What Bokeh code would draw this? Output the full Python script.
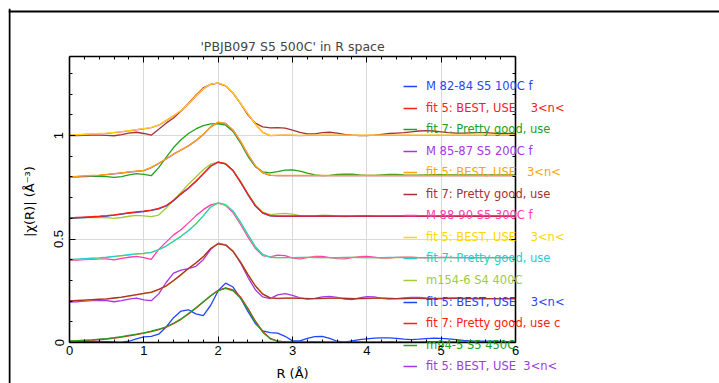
from bokeh.plotting import figure
from bokeh.models import Range1d, FixedTicker, LinearAxis, Legend, LegendItem, Span
from bokeh.embed import file_html
from bokeh.resources import INLINE

R = [0.0, 0.1, 0.2, 0.3, 0.4, 0.5, 0.6, 0.7, 0.8, 0.9,
     1.0, 1.1, 1.2, 1.3, 1.4, 1.5, 1.6, 1.7, 1.8, 1.9,
     2.0, 2.1, 2.2, 2.3, 2.4, 2.5, 2.6, 2.7, 2.8, 2.9,
     3.0, 3.1, 3.2, 3.3, 3.4, 3.5, 3.6, 3.7, 3.8, 3.9,
     4.0, 4.1, 4.2, 4.3, 4.4, 4.5, 4.6, 4.7, 4.8, 4.9,
     5.0, 5.1, 5.2, 5.3, 5.4, 5.5, 5.6, 5.7, 5.8, 5.9, 6.0]

OFFSETS = [0.0, 0.2, 0.4, 0.6, 0.8, 1.0]

# group 1: M 82-84 S5 100C
m8284_data = [0.004, 0.004, 0.005, 0.005, 0.005, 0.004, 0.003, 0.002, 0.006, 0.018,
              0.027, 0.030, 0.040, 0.075, 0.120, 0.152, 0.158, 0.138, 0.130, 0.180,
              0.250, 0.287, 0.268, 0.215, 0.150, 0.092, 0.056, 0.048, 0.045, 0.030,
              0.008, 0.008, 0.020, 0.028, 0.030, 0.020, 0.006, 0.002, 0.008, 0.014,
              0.018, 0.021, 0.022, 0.022, 0.020, 0.016, 0.014, 0.016, 0.019, 0.021,
              0.020, 0.018, 0.014, 0.010, 0.008, 0.007, 0.007, 0.006, 0.005, 0.004, 0.004]
m8284_fit5 = [0.006, 0.007, 0.009, 0.011, 0.014, 0.017, 0.021, 0.026, 0.032, 0.038,
              0.045, 0.053, 0.062, 0.074, 0.091, 0.112, 0.138, 0.166, 0.196, 0.226,
              0.252, 0.264, 0.254, 0.220, 0.165, 0.104, 0.053, 0.020, 0.007, 0.003,
              0.002, 0.002, 0.003, 0.003, 0.002, 0.002, 0.002, 0.003, 0.003, 0.002,
              0.002, 0.002, 0.003, 0.003, 0.002, 0.002, 0.002, 0.002, 0.003, 0.003,
              0.002, 0.002, 0.002, 0.002, 0.002, 0.002, 0.002, 0.002, 0.002, 0.002, 0.002]
m8284_fit7 = [0.008, 0.009, 0.011, 0.013, 0.016, 0.019, 0.023, 0.028, 0.034, 0.040,
              0.047, 0.055, 0.064, 0.076, 0.093, 0.114, 0.140, 0.168, 0.197, 0.226,
              0.251, 0.262, 0.250, 0.215, 0.160, 0.100, 0.050, 0.018, 0.006, 0.003,
              0.003, 0.002, 0.002, 0.003, 0.003, 0.002, 0.002, 0.002, 0.003, 0.003,
              0.002, 0.002, 0.002, 0.003, 0.003, 0.002, 0.002, 0.002, 0.002, 0.003,
              0.003, 0.002, 0.002, 0.002, 0.002, 0.002, 0.002, 0.002, 0.002, 0.002, 0.002]

# group 2: M 85-87 S5 200C
m8587_data = [-0.005, -0.003, 0.000, 0.002, 0.003, 0.002, -0.003, 0.002, 0.010, 0.014,
              0.006, 0.002, 0.035, 0.090, 0.135, 0.150, 0.157, 0.168, 0.200, 0.250,
              0.280, 0.272, 0.242, 0.185, 0.115, 0.055, 0.020, 0.012, 0.030, 0.036,
              0.028, 0.016, 0.010, 0.013, 0.020, 0.023, 0.018, 0.010, 0.007, 0.015,
              0.022, 0.020, 0.013, 0.010, 0.012, 0.015, 0.018, 0.018, 0.015, 0.013,
              0.013, 0.014, 0.015, 0.014, 0.013, 0.012, 0.012, 0.012, 0.012, 0.012, 0.012]
m8587_fit5 = [0.000, 0.002, 0.004, 0.006, 0.008, 0.010, 0.014, 0.018, 0.024, 0.030,
              0.036, 0.041, 0.055, 0.072, 0.098, 0.126, 0.158, 0.185, 0.215, 0.255,
              0.278, 0.272, 0.242, 0.190, 0.130, 0.075, 0.035, 0.016, 0.012, 0.013,
              0.014, 0.014, 0.013, 0.012, 0.012, 0.013, 0.014, 0.014, 0.013, 0.012,
              0.012, 0.013, 0.014, 0.013, 0.012, 0.012, 0.013, 0.013, 0.013, 0.012,
              0.012, 0.012, 0.013, 0.013, 0.012, 0.012, 0.012, 0.012, 0.012, 0.012, 0.012]
m8587_fit7 = [0.001, 0.003, 0.005, 0.007, 0.009, 0.011, 0.015, 0.019, 0.025, 0.031,
              0.037, 0.043, 0.057, 0.074, 0.100, 0.128, 0.158, 0.184, 0.214, 0.254,
              0.277, 0.271, 0.240, 0.188, 0.128, 0.073, 0.034, 0.016, 0.013, 0.014,
              0.014, 0.013, 0.012, 0.012, 0.013, 0.014, 0.014, 0.013, 0.012, 0.012,
              0.013, 0.014, 0.014, 0.013, 0.012, 0.012, 0.013, 0.013, 0.012, 0.012,
              0.012, 0.013, 0.013, 0.012, 0.012, 0.012, 0.012, 0.012, 0.012, 0.012, 0.012]

# group 3: M 88-90 S5 300C
m8890_data = [-0.003, -0.002, 0.000, 0.002, 0.004, 0.004, -0.001, 0.006, 0.012, 0.016,
              0.010, 0.002, 0.050, 0.085, 0.120, 0.145, 0.178, 0.212, 0.242, 0.265,
              0.273, 0.262, 0.228, 0.172, 0.110, 0.055, 0.020, 0.014, 0.022, 0.020,
              0.008, 0.004, 0.010, 0.016, 0.016, 0.010, 0.005, 0.004, 0.010, 0.015,
              0.016, 0.012, 0.008, 0.008, 0.011, 0.013, 0.012, 0.010, 0.009, 0.010,
              0.011, 0.011, 0.010, 0.010, 0.010, 0.010, 0.010, 0.010, 0.010, 0.010, 0.010]
m8890_fit5 = [0.000, 0.002, 0.004, 0.006, 0.008, 0.011, 0.015, 0.019, 0.023, 0.027,
              0.030, 0.035, 0.048, 0.066, 0.090, 0.113, 0.142, 0.174, 0.213, 0.255,
              0.275, 0.265, 0.235, 0.180, 0.120, 0.062, 0.025, 0.012, 0.010, 0.010,
              0.010, 0.010, 0.011, 0.011, 0.010, 0.010, 0.010, 0.010, 0.011, 0.011,
              0.010, 0.010, 0.010, 0.010, 0.010, 0.011, 0.011, 0.010, 0.010, 0.010,
              0.010, 0.010, 0.010, 0.010, 0.010, 0.010, 0.010, 0.010, 0.010, 0.010, 0.010]
m8890_fit7 = [0.001, 0.003, 0.005, 0.007, 0.009, 0.012, 0.016, 0.020, 0.024, 0.028,
              0.031, 0.036, 0.049, 0.066, 0.089, 0.113, 0.140, 0.172, 0.212, 0.255,
              0.275, 0.266, 0.236, 0.182, 0.121, 0.063, 0.026, 0.012, 0.010, 0.010,
              0.010, 0.011, 0.011, 0.010, 0.010, 0.010, 0.010, 0.011, 0.011, 0.010,
              0.010, 0.010, 0.010, 0.011, 0.011, 0.010, 0.010, 0.010, 0.010, 0.010,
              0.010, 0.010, 0.010, 0.010, 0.010, 0.010, 0.010, 0.010, 0.010, 0.010, 0.010]

# group 4: m154-6 S4 400C
m1546_data = [0.000, 0.001, 0.003, 0.004, 0.004, 0.003, 0.000, 0.004, 0.010, 0.014,
              0.012, 0.008, 0.016, 0.050, 0.088, 0.125, 0.165, 0.200, 0.235, 0.262,
              0.272, 0.262, 0.232, 0.180, 0.120, 0.065, 0.030, 0.018, 0.022, 0.024,
              0.020, 0.013, 0.010, 0.012, 0.015, 0.014, 0.010, 0.008, 0.009, 0.012,
              0.013, 0.011, 0.009, 0.009, 0.010, 0.011, 0.011, 0.010, 0.009, 0.009,
              0.010, 0.010, 0.010, 0.010, 0.010, 0.010, 0.010, 0.010, 0.010, 0.010, 0.010]
m1546_fit5 = [0.000, 0.002, 0.004, 0.006, 0.008, 0.011, 0.015, 0.020, 0.025, 0.029,
              0.033, 0.038, 0.046, 0.060, 0.085, 0.117, 0.145, 0.178, 0.215, 0.252,
              0.271, 0.263, 0.230, 0.175, 0.115, 0.060, 0.025, 0.012, 0.010, 0.010,
              0.010, 0.010, 0.010, 0.010, 0.010, 0.010, 0.010, 0.010, 0.010, 0.010,
              0.010, 0.010, 0.010, 0.010, 0.010, 0.010, 0.010, 0.010, 0.010, 0.010,
              0.010, 0.010, 0.010, 0.010, 0.010, 0.010, 0.010, 0.010, 0.010, 0.010, 0.010]
m1546_fit7 = [0.002, 0.004, 0.006, 0.008, 0.010, 0.013, 0.017, 0.022, 0.027, 0.031,
              0.035, 0.040, 0.048, 0.062, 0.087, 0.119, 0.147, 0.179, 0.216, 0.253,
              0.272, 0.264, 0.231, 0.176, 0.116, 0.061, 0.026, 0.013, 0.011, 0.011,
              0.011, 0.011, 0.011, 0.011, 0.011, 0.011, 0.011, 0.011, 0.011, 0.011,
              0.011, 0.011, 0.011, 0.011, 0.011, 0.011, 0.011, 0.011, 0.011, 0.011,
              0.011, 0.011, 0.011, 0.011, 0.011, 0.011, 0.011, 0.011, 0.011, 0.011, 0.011]

# group 5: m94-5 S5 450C
m945_data = [0.000, 0.001, 0.002, 0.003, 0.003, 0.002, -0.002, 0.002, 0.010, 0.016,
             0.012, 0.006, 0.045, 0.095, 0.142, 0.180, 0.210, 0.232, 0.248, 0.256,
             0.257, 0.250, 0.220, 0.165, 0.100, 0.050, 0.025, 0.020, 0.026, 0.033,
             0.034, 0.028, 0.018, 0.010, 0.006, 0.008, 0.012, 0.014, 0.013, 0.010,
             0.008, 0.008, 0.010, 0.012, 0.012, 0.010, 0.009, 0.009, 0.010, 0.011,
             0.011, 0.010, 0.010, 0.010, 0.010, 0.010, 0.010, 0.010, 0.010, 0.010, 0.010]
m945_fit5 = [0.000, 0.002, 0.004, 0.006, 0.008, 0.011, 0.015, 0.019, 0.023, 0.027,
             0.031, 0.045, 0.065, 0.087, 0.110, 0.130, 0.150, 0.175, 0.205, 0.242,
             0.264, 0.258, 0.226, 0.172, 0.108, 0.053, 0.020, 0.008, 0.006, 0.006,
             0.006, 0.006, 0.006, 0.006, 0.006, 0.006, 0.006, 0.006, 0.006, 0.006,
             0.006, 0.006, 0.006, 0.006, 0.006, 0.006, 0.006, 0.006, 0.006, 0.006,
             0.006, 0.006, 0.006, 0.006, 0.006, 0.006, 0.006, 0.006, 0.006, 0.006, 0.006]
m945_fit7 = [0.001, 0.003, 0.005, 0.007, 0.009, 0.012, 0.016, 0.020, 0.024, 0.028,
             0.032, 0.046, 0.066, 0.088, 0.111, 0.131, 0.151, 0.176, 0.206, 0.243,
             0.265, 0.259, 0.227, 0.173, 0.109, 0.054, 0.021, 0.009, 0.007, 0.007,
             0.007, 0.007, 0.007, 0.007, 0.007, 0.007, 0.007, 0.007, 0.007, 0.007,
             0.007, 0.007, 0.007, 0.007, 0.007, 0.007, 0.007, 0.007, 0.007, 0.007,
             0.007, 0.007, 0.007, 0.007, 0.007, 0.007, 0.007, 0.007, 0.007, 0.007, 0.007]

# group 6: PBJB097 S5 500C
pbjb_data = [0.000, 0.000, 0.001, 0.002, 0.002, 0.001, -0.001, 0.004, 0.012, 0.016,
             0.010, 0.002, 0.030, 0.060, 0.085, 0.118, 0.155, 0.195, 0.230, 0.248,
             0.253, 0.240, 0.205, 0.155, 0.100, 0.060, 0.042, 0.037, 0.038, 0.036,
             0.026, 0.015, 0.008, 0.008, 0.014, 0.016, 0.012, 0.006, 0.002, 0.000,
             0.000, 0.002, 0.006, 0.010, 0.012, 0.014, 0.018, 0.022, 0.024, 0.022,
             0.018, 0.014, 0.012, 0.012, 0.013, 0.014, 0.014, 0.012, 0.010, 0.010, 0.010]
pbjb_fit5 = [0.002, 0.003, 0.005, 0.007, 0.009, 0.011, 0.014, 0.018, 0.023, 0.028,
             0.032, 0.038, 0.050, 0.072, 0.095, 0.120, 0.152, 0.190, 0.225, 0.248,
             0.253, 0.240, 0.205, 0.155, 0.105, 0.055, 0.015, 0.000, 0.001, 0.002,
             0.001, 0.000, 0.001, 0.001, 0.001, 0.001, 0.001, 0.001, 0.001, 0.001,
             0.001, 0.001, 0.001, 0.001, 0.001, 0.001, 0.001, 0.001, 0.001, 0.001,
             0.001, 0.001, 0.001, 0.001, 0.001, 0.001, 0.001, 0.001, 0.001, 0.001, 0.001]
pbjb_fit7 = [0.003, 0.004, 0.006, 0.008, 0.010, 0.012, 0.015, 0.019, 0.024, 0.029,
             0.033, 0.039, 0.051, 0.073, 0.096, 0.121, 0.153, 0.191, 0.226, 0.249,
             0.254, 0.241, 0.206, 0.156, 0.106, 0.056, 0.016, 0.001, 0.002, 0.002,
             0.002, 0.001, 0.002, 0.002, 0.002, 0.002, 0.002, 0.002, 0.002, 0.002,
             0.002, 0.002, 0.002, 0.002, 0.002, 0.002, 0.002, 0.002, 0.002, 0.002,
             0.002, 0.002, 0.002, 0.002, 0.002, 0.002, 0.002, 0.002, 0.002, 0.002, 0.002]

SERIES = [m8284_data, m8284_fit5, m8284_fit7,
          m8587_data, m8587_fit5, m8587_fit7,
          m8890_data, m8890_fit5, m8890_fit7,
          m1546_data, m1546_fit5, m1546_fit7,
          m945_data, m945_fit5, m945_fit7,
          pbjb_data, pbjb_fit5, pbjb_fit7]

NB = "\u00a0"
LABELS = ["M 82-84 S5 100C f",
          "fit 5: BEST, USE" + NB * 4 + "3<n<",
          "fit 7: Pretty good, use",
          "M 85-87 S5 200C f",
          "fit 5: BEST, USE" + NB * 3 + "3<n<",
          "fit 7: Pretty good, use",
          "M 88-90 S5 300C f",
          "fit 5: BEST, USE" + NB * 4 + "3<n<",
          "fit 7: Pretty good, use",
          "m154-6 S4 400C",
          "fit 5: BEST, USE" + NB * 4 + "3<n<",
          "fit 7: Pretty good, use c",
          "m94-5 S5 450C",
          "fit 5: BEST, USE" + NB * 2 + "3<n<"]

COLORS = ["#1f45ff", "#ff2010", "#22a022", "#a436e6", "#ffa500",
          "#a83232", "#ff3cb4", "#ffd700", "#20d0d0", "#a0cc38"]

X_TICKS = [0, 1, 2, 3, 4, 5, 6]
X_MINOR = [0.2, 0.4, 0.6, 0.8, 1.2, 1.4, 1.6, 1.8, 2.2, 2.4, 2.6, 2.8,
           3.2, 3.4, 3.6, 3.8, 4.2, 4.4, 4.6, 4.8, 5.2, 5.4, 5.6, 5.8]
Y_TICKS = [0, 0.5, 1]
Y_MINOR = [0.1, 0.2, 0.3, 0.4, 0.6, 0.7, 0.8, 0.9, 1.1, 1.2, 1.3]

TITLE = "'PBJB097 S5 500C' in R space"
XLABEL = "R (Å)"
YLABEL = "|χ(R)|  (Å⁻³)"

W, H = 711, 375

# ---------------- main plot ----------------
p = figure(width=W, height=H,
           min_border_left=61, min_border_right=204,
           min_border_top=48, min_border_bottom=40,
           x_range=Range1d(0, 6), y_range=Range1d(0, 1.382),
           output_backend="svg", toolbar_location=None,
           title=TITLE)
p.styles = {"position": "absolute", "left": "8px", "top": "8px"}
p.outline_line_color = None
p.background_fill_color = "white"
p.border_fill_color = "white"

p.title.align = "center"
p.title.text_font = "DejaVu Sans"
p.title.text_font_size = "12.5px"
p.title.text_font_style = "normal"
p.title.standoff = 6

xt = FixedTicker(ticks=X_TICKS, minor_ticks=X_MINOR)
yt = FixedTicker(ticks=Y_TICKS, minor_ticks=Y_MINOR)

p.add_layout(LinearAxis(), "above")
p.add_layout(LinearAxis(), "right")

for ax in p.xaxis:
    ax.ticker = xt
for ax in p.yaxis:
    ax.ticker = yt

for ax in p.axis:
    ax.axis_line_color = "black"
    ax.axis_line_width = 1.6
    ax.major_tick_line_color = "black"
    ax.minor_tick_line_color = "black"
    ax.major_tick_line_width = 1
    ax.minor_tick_line_width = 1
    ax.major_tick_in = 6
    ax.major_tick_out = 0
    ax.minor_tick_in = 3
    ax.minor_tick_out = 0
    ax.major_label_text_font = "Liberation Sans"
    ax.major_label_text_font_size = "13px"
    ax.major_label_text_color = "black"
    ax.axis_label_text_font = "DejaVu Sans"
    ax.axis_label_text_font_size = "13px"
    ax.axis_label_text_font_style = "normal"
    ax.axis_label_text_color = "black"

top_ax = p.above[-1]
right_ax = p.right[-1]
top_ax.major_label_overrides = {t: "" for t in X_TICKS}
top_ax.major_label_standoff = 0
right_ax.major_label_overrides = {t: "" for t in Y_TICKS}
right_ax.major_label_standoff = 0

p.below[0].axis_label = XLABEL
p.below[0].major_label_standoff = 3
p.below[0].axis_label_standoff = 8
p.below[0].major_label_overrides = {t: str(t) for t in X_TICKS}

p.left[0].axis_label = YLABEL
p.left[0].major_label_orientation = "parallel"
p.left[0].major_label_standoff = 6
p.left[0].axis_label_standoff = 15
p.left[0].major_label_overrides = {0: "0", 0.5: "0.5", 1: "1"}

p.xgrid.ticker = FixedTicker(ticks=[1, 2, 3, 4, 5])
p.ygrid.ticker = FixedTicker(ticks=[0.5, 1])
p.xgrid.grid_line_color = "#d9d9d9"
p.ygrid.grid_line_color = "#d9d9d9"

for i, s in enumerate(SERIES):
    off = OFFSETS[i // 3]
    ys = [v + off for v in s]
    p.line(R, ys, line_color=COLORS[i % len(COLORS)], line_width=1.3)

# ---------------- legend overlay (transparent figure on top) ----------------
q = figure(width=W, height=H, x_range=Range1d(0, W), y_range=Range1d(H, 0),
           x_axis_type=None, y_axis_type=None, min_border=0,
           output_backend="svg", toolbar_location=None)
q.outline_line_color = None
q.background_fill_alpha = 0
q.border_fill_alpha = 0
q.styles = {"position": "absolute", "left": "8px", "top": "8px",
            "pointer-events": "none"}

# outer window frame (top and left edges)
q.add_layout(Span(location=3, dimension="width", line_color="black", line_width=2))
q.add_layout(Span(location=1, dimension="height", line_color="black", line_width=2))

LEG_X = 395          # left of legend glyphs, canvas px
LEG_Y0 = 78          # centre of first legend row, canvas px
LEG_STEP = 21.55     # row pitch
ITEM_H = 20
for k, lab in enumerate(LABELS):
    col = COLORS[k % len(COLORS)]
    r = q.line([-100, -90], [-100, -90], line_color=col, line_width=1.5)
    yc = LEG_Y0 + LEG_STEP * k
    top = yc - ITEM_H / 2
    lg = Legend(items=[LegendItem(label=lab, renderers=[r])],
                location=(LEG_X, H - top - ITEM_H),
                orientation="vertical", padding=0, margin=0, spacing=0,
                glyph_width=14, glyph_height=ITEM_H, label_height=ITEM_H,
                label_standoff=9, border_line_alpha=0, background_fill_alpha=0,
                label_text_font="DejaVu Sans", label_text_font_size="11.5px",
                label_text_color=col)
    q.add_layout(lg, "center")

open("out.html", "w").write(file_html([p, q], INLINE))
